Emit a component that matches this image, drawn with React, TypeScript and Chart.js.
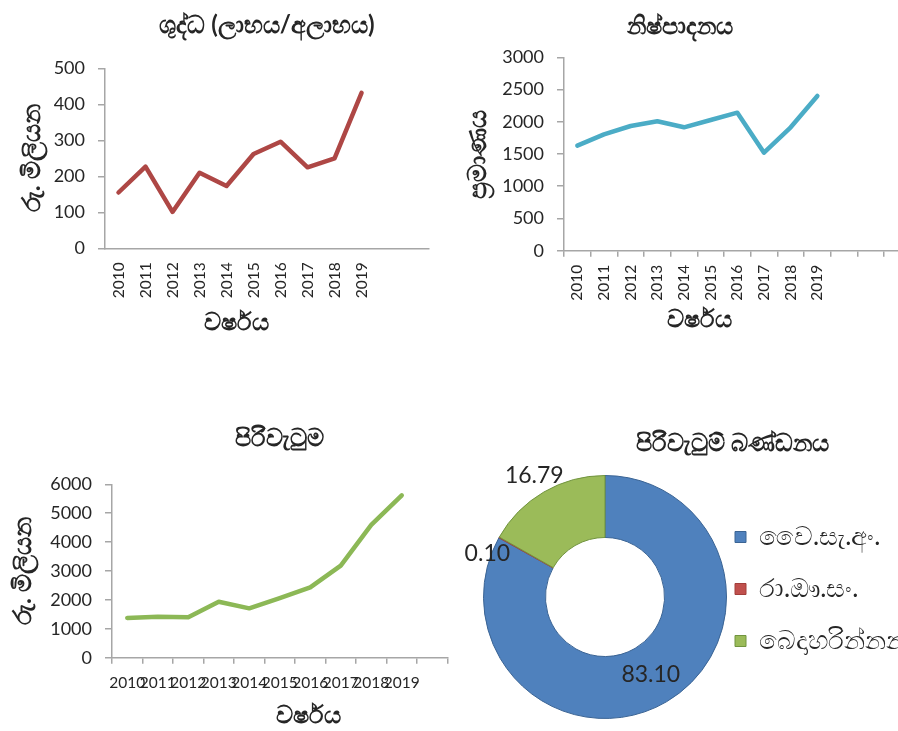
import React, { useEffect, useRef } from 'react';
import { Chart, registerables } from 'chart.js';

Chart.register(...registerables);

// ---------- data ----------
const years = ['2010', '2011', '2012', '2013', '2014', '2015', '2016', '2017', '2018', '2019'];
const profitCategories = [...years, '', ''];
const profitValues = [155, 227, 101, 210, 173, 262, 296, 225, 250, 432];
const productionCategories = [...years, '', '', ''];
const productionValues = [1629, 1805, 1934, 2007, 1914, 2028, 2141, 1521, 1914, 2400];
const revenueCategories = [...years, ''];
const revenueValues = [1373, 1419, 1396, 1938, 1708, 2060, 2435, 3185, 4593, 5620];
const segmentLabels = ['වෛ.සැ.අං.', 'රා.ඖ.සං.', 'බෙදාහරින්නන්'];
const segmentValues = [83.1, 0.1, 16.79];

const titleProfit = 'ශුද්ධ (ලාභය/අලාභය)';
const titleProduction = 'නිෂ්පාදනය';
const titleRevenue = 'පිරිවැටුම';
const titleSegments = 'පිරිවැටුම් බණ්ඩනය';
const xAxisText = 'වර්ෂය';
const yAxisMoney = 'රු. මිලියන';
const yAxisQuantity = 'ප්‍රමාණය';

// ---------- styles ----------
const FAMILY = "Lato, 'Noto Sans', 'DejaVu Sans', sans-serif";
const TEXT = '#262626';
const AXIS = '#A6A6A6';

const xAxisTitlePlugin = {
  id: 'xAxisTitle',
  afterDraw(chart: any, _args: any, opts: any) {
    if (!opts || !opts.text) return;
    const { ctx, chartArea } = chart;
    ctx.save();
    ctx.font = `bold ${opts.size}px ${FAMILY}`;
    ctx.fillStyle = TEXT;
    ctx.textAlign = 'center';
    ctx.textBaseline = 'middle';
    ctx.fillText(opts.text, (chartArea.left + chartArea.right) / 2 + opts.dx, opts.y);
    ctx.restore();
  },
};

const legendPlacementPlugin = {
  id: 'legendPlacement',
  beforeLayout(chart: any, _args: any, opts: any) {
    const lg = chart.legend;
    if (lg && !lg.__patched) {
      const fit = lg.fit.bind(lg);
      lg.fit = function () {
        fit();
        this.width = opts.width;
      };
      lg.__patched = true;
    }
  },
  afterLayout(chart: any, _args: any, opts: any) {
    const lg = chart.legend;
    if (!lg) return;
    lg.left += opts.dx;
    lg.right += opts.dx;
    lg.top += opts.dy;
    lg.bottom += opts.dy;
  },
};

const doughnutValuesPlugin = {
  id: 'doughnutValues',
  afterDatasetsDraw(chart: any, _args: any, opts: any) {
    const meta = chart.getDatasetMeta(0);
    const values = chart.data.datasets[0].data;
    const ctx = chart.ctx;
    ctx.save();
    ctx.font = `${opts.size}px ${FAMILY}`;
    ctx.fillStyle = TEXT;
    ctx.textAlign = 'center';
    ctx.textBaseline = 'middle';
    meta.data.forEach((arc: any, i: number) => {
      const p = arc.getProps(['x', 'y', 'startAngle', 'endAngle', 'innerRadius', 'outerRadius'], true);
      const mid = (p.startAngle + p.endAngle) / 2 + (opts.angleShift[i] * Math.PI) / 180;
      const r = opts.inside[i] ? (p.innerRadius + p.outerRadius) / 2 : p.outerRadius + opts.gap[i];
      ctx.fillText(Number(values[i]).toFixed(2), p.x + r * Math.cos(mid), p.y + r * Math.sin(mid));
    });
    ctx.restore();
  },
};

type LineSpec = {
  categories: string[];
  values: number[];
  color: string;
  title: string;
  titleFullSize: boolean;
  titlePad: { top: number; bottom: number };
  yTitle: string;
  yTitlePad: number;
  yMax: number;
  yStep: number;
  yWidth: number;
  xHeight: number;
  xTicksVisible: boolean;
  xRotation: number;
  xTickPadding: number;
  padRight: number;
  xTitleDx: number;
  xTitleY: number;
};

function lineConfig(s: LineSpec): any {
  return {
    type: 'line',
    data: {
      labels: s.categories,
      datasets: [
        {
          data: s.values,
          borderColor: s.color,
          backgroundColor: s.color,
          borderWidth: 4.5,
          pointRadius: 0,
          tension: 0,
          borderJoinStyle: 'round',
          borderCapStyle: 'round',
        },
      ],
    },
    options: {
      animation: false,
      responsive: false,
      maintainAspectRatio: false,
      layout: { padding: { left: 0, right: s.padRight, top: 0, bottom: 0 } },
      scales: {
        x: {
          type: 'category',
          offset: true,
          grid: {
            display: s.xTicksVisible,
            offset: true,
            drawOnChartArea: false,
            drawTicks: s.xTicksVisible,
            tickLength: 6,
            color: AXIS,
            lineWidth: 1.5,
          },
          border: { display: true, color: AXIS, width: 1.5 },
          ticks: {
            autoSkip: false,
            minRotation: s.xRotation,
            maxRotation: s.xRotation,
            padding: s.xTickPadding,
            color: TEXT,
            font: { size: 15.5, family: FAMILY },
          },
          afterFit: (scale: any) => {
            scale.height = s.xHeight;
          },
        },
        y: {
          min: 0,
          max: s.yMax,
          ticks: {
            stepSize: s.yStep,
            padding: 13,
            color: TEXT,
            font: { size: 18, family: FAMILY },
            callback: (v: any) => String(v),
          },
          grid: { drawOnChartArea: false, tickLength: 7, color: AXIS, lineWidth: 1.5 },
          border: { display: true, color: AXIS, width: 1.5 },
          title: {
            display: true,
            text: s.yTitle,
            color: TEXT,
            font: { size: 25, weight: 'bold', family: FAMILY },
            padding: { top: s.yTitlePad, bottom: 0 },
          },
          afterFit: (scale: any) => {
            scale.width = s.yWidth;
          },
        },
      },
      plugins: {
        legend: { display: false },
        tooltip: { enabled: false },
        title: {
          display: true,
          text: s.title,
          fullSize: s.titleFullSize,
          color: TEXT,
          font: { size: 24, weight: 'bold', family: FAMILY },
          padding: s.titlePad,
        },
        xAxisTitle: { text: xAxisText, size: 23.5, dx: s.xTitleDx, y: s.xTitleY },
      },
    },
    plugins: [xAxisTitlePlugin],
  };
}

function doughnutConfig(): any {
  return {
    type: 'doughnut',
    data: {
      labels: segmentLabels,
      datasets: [
        {
          data: segmentValues,
          backgroundColor: ['#4F81BD', '#C0504D', '#9BBB59'],
          borderColor: ['#3B6494', '#A23E3B', '#71943F'],
          borderWidth: 1,
        },
      ],
    },
    options: {
      animation: false,
      responsive: false,
      maintainAspectRatio: false,
      cutout: '49%',
      layout: { padding: { left: 34, right: 89, top: 0, bottom: 12 } },
      plugins: {
        tooltip: { enabled: false },
        title: {
          display: true,
          text: titleSegments,
          fullSize: true,
          color: TEXT,
          font: { size: 24, weight: 'bold', family: FAMILY },
          padding: { top: 8.6, bottom: 17.6 },
        },
        legend: {
          display: true,
          position: 'right',
          fullSize: false,
          align: 'center',
          labels: {
            boxWidth: 11,
            boxHeight: 11,
            padding: 26,
            color: TEXT,
            font: { size: 26, family: FAMILY },
          },
        },
        legendPlacement: { width: 255, dx: -18, dy: -8 },
        doughnutValues: {
          size: 23,
          inside: [true, false, false],
          gap: [0, 4, 19],
          angleShift: [0, -9, 0],
        },
      },
    },
    plugins: [legendPlacementPlugin, doughnutValuesPlugin],
  };
}

function ChartCanvas(props: { config: () => any; left: number; top: number; width: number; height: number }) {
  const ref = useRef<HTMLCanvasElement | null>(null);
  useEffect(() => {
    if (!ref.current) return;
    const chart = new Chart(ref.current, props.config());
    return () => chart.destroy();
  }, []);
  return (
    <canvas
      ref={ref}
      width={props.width}
      height={props.height}
      style={{
        position: 'absolute',
        left: props.left,
        top: props.top,
        width: props.width,
        height: props.height,
        display: 'block',
      }}
    />
  );
}

export default function App() {
  return (
    <div
      style={{
        position: 'fixed',
        left: 0,
        top: 0,
        width: 898,
        height: 731,
        overflow: 'hidden',
        background: '#ffffff',
      }}
    >
      <ChartCanvas
        left={0}
        top={0}
        width={449}
        height={340}
        config={() =>
          lineConfig({
            categories: profitCategories,
            values: profitValues,
            color: '#AE4745',
            title: titleProfit,
            titleFullSize: false,
            titlePad: { top: 10.6, bottom: 28.9 },
            yTitle: yAxisMoney,
            yTitlePad: 17,
            yMax: 500,
            yStep: 100,
            yWidth: 105,
            xHeight: 91.7,
            xTicksVisible: false,
            xRotation: 90,
            xTickPadding: 14,
            padRight: 8,
            xTitleDx: -31,
            xTitleY: 322,
          })
        }
      />
      <ChartCanvas
        left={449}
        top={0}
        width={482}
        height={340}
        config={() =>
          lineConfig({
            categories: productionCategories,
            values: productionValues,
            color: '#4BACC6',
            title: titleProduction,
            titleFullSize: true,
            titlePad: { top: 12.3, bottom: 16.2 },
            yTitle: yAxisQuantity,
            yTitlePad: 14,
            yMax: 3000,
            yStep: 500,
            yWidth: 115,
            xHeight: 89.3,
            xTicksVisible: true,
            xRotation: 90,
            xTickPadding: 8,
            padRight: 20.3,
            xTitleDx: -38,
            xTitleY: 319,
          })
        }
      />
      <ChartCanvas
        left={0}
        top={420}
        width={449}
        height={311}
        config={() =>
          lineConfig({
            categories: revenueCategories,
            values: revenueValues,
            color: '#8CB856',
            title: titleRevenue,
            titleFullSize: false,
            titlePad: { top: 3.6, bottom: 31.9 },
            yTitle: yAxisMoney,
            yTitlePad: 8.3,
            yMax: 6000,
            yStep: 1000,
            yWidth: 112,
            xHeight: 73.3,
            xTicksVisible: true,
            xRotation: 0,
            xTickPadding: 10,
            padRight: 1.5,
            xTitleDx: 29,
            xTitleY: 295,
          })
        }
      />
      <ChartCanvas left={449} top={420} width={622} height={311} config={doughnutConfig} />
    </div>
  );
}
